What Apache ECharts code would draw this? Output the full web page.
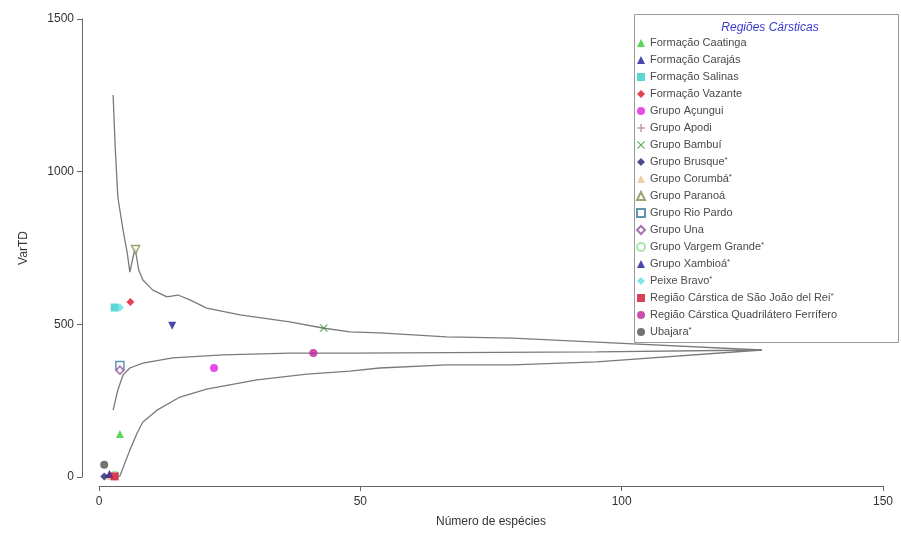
<!DOCTYPE html>
<html>
<head>
<meta charset="utf-8">
<script src="https://cdn.jsdelivr.net/npm/echarts@6/dist/echarts.min.js"></script>
<style>
  html, body { margin: 0; padding: 0; background: #fff; }
  #chart { width: 901px; height: 533px; }
</style>
</head>
<body>
<div id="chart"></div>
<script>
// funnel curves (Número de espécies, VarTD)
var upperLimit = [[2.7, 1251], [3.1, 1081], [3.6, 917], [4.6, 809], [5.4, 734], [5.9, 671], [6.9, 750],
  [7.6, 678], [8.4, 645], [10.3, 612], [13, 590], [15.1, 596], [17.4, 580], [20.6, 553], [27, 531],
  [36.5, 508], [42.8, 488], [48, 475], [53.7, 472], [66.5, 459], [79.1, 455], [95.2, 442], [126.8, 416]];
var meanLine = [[2.7, 219], [3.6, 285], [4.6, 334], [5.9, 357], [8.4, 373], [14.1, 390], [23.7, 400],
  [36.5, 406], [48, 406], [95.2, 410], [126.8, 416]];
var lowerLimit = [[2.7, 0], [4, 3], [5.9, 88], [7.3, 144], [8.4, 180], [11.1, 219], [15.5, 262],
  [20.6, 288], [30.2, 318], [39.8, 337], [48, 347], [53.7, 357], [66.5, 367], [79.1, 367],
  [95.2, 377], [126.8, 416]];

// regions: name, [species, VarTD]
var regionNames = ['Formação Caatinga', 'Formação Carajás', 'Formação Salinas', 'Formação Vazante',
  'Grupo Açungui', 'Grupo Apodi', 'Grupo Bambuí', 'Grupo Brusque*', 'Grupo Corumbá*', 'Grupo Paranoá',
  'Grupo Rio Pardo', 'Grupo Una', 'Grupo Vargem Grande*', 'Grupo Xambioá*', 'Peixe Bravo*',
  'Região Cárstica de São João del Rei*', 'Região Cárstica Quadrilátero Ferrífero', 'Ubajara*'];
var regionValues = [[4, 141], [14, 495], [3, 555], [6, 573],
  [22, 357], [2, 6], [43, 488], [1, 2], [2, 3], [7, 745],
  [4, 365], [4, 350], [3, 5], [2, 10], [4, 555],
  [3, 2], [41, 406], [1, 40]];

var plusPath = 'path://M4,0 L6,0 L6,4 L10,4 L10,6 L6,6 L6,10 L4,10 L4,6 L0,6 L0,4 L4,4 Z';
var crossPath = 'path://M1,0 L5,4 L9,0 L10,1 L6,5 L10,9 L9,10 L5,6 L1,10 L0,9 L4,5 L0,1 Z';

var markerStyles = [
  { symbol: 'triangle', color: '#33cc33' },
  { symbol: 'triangle', rotate: 180, color: '#1a1a99' },
  { symbol: 'rect', color: '#33cccc' },
  { symbol: 'diamond', color: '#e0102a' },
  { symbol: 'circle', color: '#e020e0' },
  { symbol: plusPath, color: '#b08a98' },
  { symbol: crossPath, color: '#339933' },
  { symbol: 'diamond', color: '#202070' },
  { symbol: 'triangle', color: '#f0c090' },
  { symbol: 'triangle', rotate: 180, color: '#8a8a50', hollow: true },
  { symbol: 'rect', color: '#3a7a9a', hollow: true },
  { symbol: 'diamond', color: '#9050a0', hollow: true },
  { symbol: 'circle', color: '#90e090', hollow: true },
  { symbol: 'triangle', color: '#1a1a99' },
  { symbol: 'diamond', color: '#60e0e0' },
  { symbol: 'rect', color: '#d01030' },
  { symbol: 'circle', color: '#c0209a' },
  { symbol: 'circle', color: '#505050' }
];

var font = 'Liberation Sans, Arial, sans-serif';
var chart = echarts.init(document.getElementById('chart'));

var series = [];
[upperLimit, meanLine, lowerLimit].forEach(function (d) {
  series.push({
    type: 'line', data: d, showSymbol: false, symbol: 'none', silent: true,
    lineStyle: { color: '#7a7a7a', width: 1.3 }, z: 1
  });
});
regionNames.forEach(function (name, i) {
  var m = markerStyles[i];
  series.push({
    name: name,
    type: 'scatter',
    data: [regionValues[i]],
    symbol: m.symbol,
    symbolRotate: m.rotate || 0,
    symbolSize: 8,
    itemStyle: m.hollow
      ? { color: '#ffffff', borderColor: m.color, borderWidth: 1.5 }
      : { color: m.color },
    z: 3
  });
});

chart.setOption({
  animation: false,
  backgroundColor: '#ffffff',
  title: {
    text: 'Regiões Cársticas',
    left: 765, top: 17, textAlign: 'center',
    textStyle: { color: '#3a3ad0', fontStyle: 'italic', fontWeight: 'normal', fontSize: 12, fontFamily: font }
  },
  graphic: [{
    type: 'rect', left: 632, top: 12,
    shape: { width: 264, height: 328 },
    style: { fill: 'none', stroke: '#999', lineWidth: 1 }
  }],
  legend: {
    data: regionNames,
    orient: 'vertical',
    left: 636, top: 37,
    itemWidth: 8, itemHeight: 8, itemGap: 5,
    padding: 0,
    textStyle: {
      color: '#4a4a4a', fontSize: 11, fontFamily: font, lineHeight: 12,
      rich: { s: { fontSize: 8, lineHeight: 12, color: '#4a4a4a', verticalAlign: 'top', padding: [0, 0, 4, 0] } }
    },
    formatter: function (name) {
      return name.charAt(name.length - 1) === '*' ? name.slice(0, -1) + '{s|*}' : name;
    }
  },
  grid: { left: 99, right: 18, top: 19, bottom: 56 },
  xAxis: {
    type: 'value', min: 0, max: 150, interval: 50,
    offset: 9,
    name: 'Número de espécies', nameLocation: 'middle', nameGap: 30,
    nameTextStyle: { color: '#333', fontSize: 12, fontFamily: font },
    axisLine: { show: true, onZero: false, lineStyle: { color: '#666' } },
    axisTick: { show: true, length: 5, lineStyle: { color: '#666' } },
    axisLabel: { color: '#333', fontSize: 12, fontFamily: font, margin: 10 },
    splitLine: { show: false }
  },
  yAxis: {
    type: 'value', min: 0, max: 1500, interval: 500,
    offset: 17,
    name: 'VarTD', nameLocation: 'middle', nameGap: 52,
    nameTextStyle: { color: '#333', fontSize: 12, fontFamily: font },
    axisLine: { show: true, onZero: false, lineStyle: { color: '#666' } },
    axisTick: { show: true, length: 5, lineStyle: { color: '#666' } },
    axisLabel: { color: '#333', fontSize: 12, fontFamily: font, margin: 8, formatter: function (v) { return String(v); } },
    splitLine: { show: false }
  },
  series: series
});
</script>
</body>
</html>
